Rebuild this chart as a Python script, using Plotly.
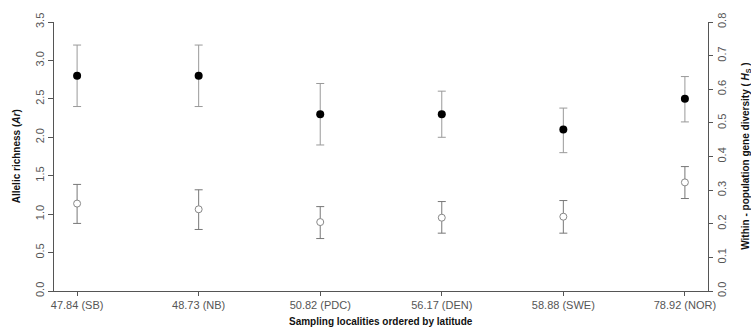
import plotly.graph_objects as go

sites = ["47.84 (SB)", "48.73 (NB)", "50.82 (PDC)", "56.17 (DEN)", "58.88 (SWE)", "78.92 (NOR)"]
ar_mean = [2.80, 2.80, 2.30, 2.30, 2.10, 2.50]
ar_low = [2.40, 2.40, 1.90, 2.00, 1.80, 2.20]
ar_high = [3.20, 3.20, 2.70, 2.60, 2.38, 2.79]
hs_mean = [0.260, 0.243, 0.205, 0.218, 0.221, 0.323]
hs_low = [0.201, 0.183, 0.156, 0.172, 0.172, 0.275]
hs_high = [0.317, 0.301, 0.251, 0.266, 0.269, 0.370]
left_ticks = [0.0, 0.5, 1.0, 1.5, 2.0, 2.5, 3.0, 3.5]
right_ticks = [0.0, 0.1, 0.2, 0.3, 0.4, 0.5, 0.6, 0.7, 0.8]

xpos = list(range(len(sites)))
FONT = "Liberation Sans, Arial, sans-serif"
AXC = "#555555"
TICKC = "#555555"

fig = go.Figure()
fig.add_trace(go.Scatter(
    x=xpos, y=ar_mean, mode="markers",
    marker=dict(color="black", size=8, symbol="circle"),
    error_y=dict(type="data", symmetric=False,
                 array=[h - m for h, m in zip(ar_high, ar_mean)],
                 arrayminus=[m - l for m, l in zip(ar_mean, ar_low)],
                 color="#999999", thickness=1, width=4),
    showlegend=False, yaxis="y"))
fig.add_trace(go.Scatter(
    x=xpos, y=hs_mean, mode="markers",
    marker=dict(color="white", size=7, symbol="circle", line=dict(color="#888888", width=1)),
    error_y=dict(type="data", symmetric=False,
                 array=[h - m for h, m in zip(hs_high, hs_mean)],
                 arrayminus=[m - l for m, l in zip(hs_mean, hs_low)],
                 color="#777777", thickness=1, width=4),
    showlegend=False, yaxis="y2"))

fig.update_layout(
    width=751, height=330,
    margin=dict(l=54, r=43, t=22, b=39),
    paper_bgcolor="white", plot_bgcolor="white",
    font=dict(family=FONT, size=11, color=TICKC),
    xaxis=dict(range=[-0.19, 5.19], tickvals=xpos, ticktext=sites, automargin=False,
               showgrid=False, zeroline=False, showline=True, linecolor=AXC, linewidth=1,
               ticks="outside", ticklen=4, tickcolor=AXC, tickfont=dict(size=11, color=TICKC)),
    yaxis=dict(range=[0, 3.5], tickvals=left_ticks, ticktext=[f"{v:.1f}" for v in left_ticks],
               automargin=False,
               showgrid=False, zeroline=False, showline=True, linecolor=AXC, linewidth=1,
               ticks="outside", ticklen=5, tickcolor=AXC, tickangle=-90,
               tickfont=dict(size=11, color=TICKC)),
    yaxis2=dict(range=[0, 0.8], tickvals=right_ticks, ticktext=[f"{v:.1f}" for v in right_ticks],
                overlaying="y", side="right", automargin=False,
                showgrid=False, zeroline=False, showline=True, linecolor=AXC, linewidth=1,
                ticks="outside", ticklen=4, tickcolor=AXC, tickangle=-90,
                tickfont=dict(size=11, color=TICKC)),
)

fig.add_annotation(text="<b>Allelic richness (<i>Ar</i>)</b>", xref="paper", yref="paper",
                   x=-0.057, y=0.5, xanchor="center", yanchor="middle", textangle=-90,
                   showarrow=False, font=dict(size=10, color="#111111", family=FONT))
fig.add_annotation(text="<b>Within - population gene diversity ( <i>H</i><sub>S</sub> )</b>",
                   xref="paper", yref="paper", x=1.057, y=0.5, xanchor="center", yanchor="middle",
                   textangle=-90, showarrow=False, font=dict(size=10, color="#111111", family=FONT))
fig.add_annotation(text="<b>Sampling localities ordered by latitude</b>", xref="paper", yref="paper",
                   x=0.5, y=-0.115, xanchor="center", yanchor="middle",
                   showarrow=False, font=dict(size=10, color="#111111", family=FONT))

fig.write_html("out.html", config={"displayModeBar": False},
               post_script="document.body.style.margin='0px';")
